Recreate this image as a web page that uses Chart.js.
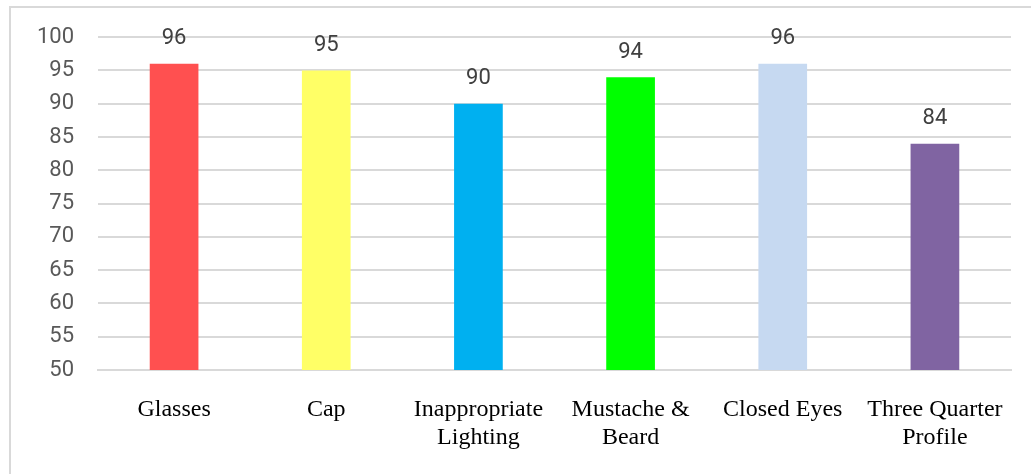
<!DOCTYPE html>
<html>
<head>
<meta charset="utf-8">
<script src="https://cdn.jsdelivr.net/npm/chart.js@4/dist/chart.umd.min.js"></script>
<style>
  html, body { margin: 0; padding: 0; background: #fff; }
  #frame { position: absolute; left: 9px; top: 6px; width: 1040px; height: 490px; border: 2px solid #d9d9d9; box-sizing: border-box; }
  #wrap { position: absolute; left: 0; top: 0; width: 1031px; height: 474px; }
</style>
</head>
<body>
<div id="frame"></div>
<div id="wrap"><canvas id="grafico"></canvas></div>
<script>
const categorias = ["Glasses", "Cap", ["Inappropriate", "Lighting"], ["Mustache &", "Beard"], "Closed Eyes", ["Three Quarter", "Profile"]];
const valores = [96, 95, 90, 94, 96, 84];
const cores = ["#FF5050", "#FFFF66", "#00B0F0", "#00FF00", "#C6D9F1", "#8064A2"];
const ticksY = [50, 55, 60, 65, 70, 75, 80, 85, 90, 95, 100];

// escreve o valor em cima de cada barra
const rotulos = {
  id: 'rotulos',
  afterDatasetsDraw(chart) {
    const ctx = chart.ctx;
    const meta = chart.getDatasetMeta(0);
    ctx.save();
    ctx.font = '22px Roboto';
    ctx.fillStyle = '#404040';
    ctx.textAlign = 'center';
    ctx.textBaseline = 'middle';
    meta.data.forEach((bar, i) => {
      ctx.fillText(valores[i], bar.x, bar.y - 25);
    });
    ctx.restore();
  }
};

const ctx = document.getElementById('grafico').getContext('2d');
new Chart(ctx, {
  type: 'bar',
  data: {
    labels: categorias,
    datasets: [{
      data: valores,
      backgroundColor: cores,
      borderWidth: 0,
      categoryPercentage: 1,
      barPercentage: 0.32
    }]
  },
  options: {
    responsive: true,
    maintainAspectRatio: false,
    animation: false,
    layout: { padding: { top: 35, right: 20, left: 0, bottom: 0 } },
    plugins: { legend: { display: false }, tooltip: { enabled: false } },
    scales: {
      x: {
        grid: { display: false, drawTicks: false },
        border: { color: '#d9d9d9', width: 2 },
        ticks: {
          color: '#000',
          font: { family: '"Liberation Serif", "Times New Roman", serif', size: 24 },
          padding: 25,
          maxRotation: 0,
          autoSkip: false
        },
        afterFit: (scale) => { scale.height = 104; }
      },
      y: {
        min: 50,
        max: 100,
        afterBuildTicks: (scale) => { scale.ticks = ticksY.map(v => ({ value: v })); },
        grid: { color: '#d9d9d9', lineWidth: 2, drawTicks: false },
        border: { display: false },
        ticks: {
          color: '#595959',
          font: { family: 'Roboto', size: 22 },
          padding: 24
        },
        afterFit: (scale) => { scale.width = 98; }
      }
    }
  },
  plugins: [rotulos]
});
</script>
</body>
</html>
